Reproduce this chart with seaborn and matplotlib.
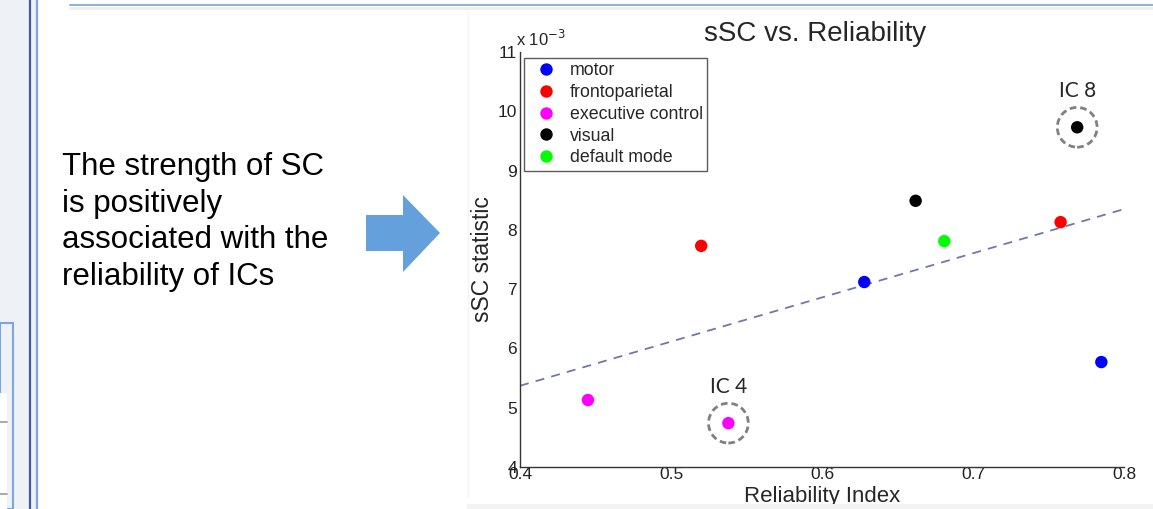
import numpy as np
import pandas as pd
import matplotlib
matplotlib.use("Agg")
import matplotlib.pyplot as plt
from matplotlib.patches import Polygon, Rectangle
from matplotlib.lines import Line2D
from matplotlib.ticker import FuncFormatter
import seaborn as sns

networks = ["motor", "frontoparietal", "executive control", "visual", "default mode"]
net_colors = ["#0000ff", "#ff0000", "#ff00ff", "#000000", "#00ff00"]
point_net = ["motor", "motor", "frontoparietal", "frontoparietal",
             "executive control", "executive control", "visual", "visual", "default mode"]
reliability = [0.628, 0.785, 0.520, 0.758, 0.445, 0.538, 0.662, 0.769, 0.681]
ssc = [7.12e-3, 5.77e-3, 7.73e-3, 8.13e-3, 5.13e-3, 4.74e-3, 8.49e-3, 9.73e-3, 7.81e-3]
ic_labels = {5: "IC 4", 7: "IC 8"}   # index of point -> label
fit_x = [0.4, 0.8]
fit_y = [5.37e-3, 8.35e-3]
x_ticks = [0.4, 0.5, 0.6, 0.7, 0.8]
y_ticks = [4e-3, 5e-3, 6e-3, 7e-3, 8e-3, 9e-3, 10e-3, 11e-3]

df = pd.DataFrame({"Reliability Index": reliability, "sSC statistic": ssc, "network": point_net})

sns.set_style("white")
plt.rcParams["font.family"] = ["Liberation Sans", "DejaVu Sans"]

W, H = 1153, 509
fig = plt.figure(figsize=(W / 100, H / 100), dpi=100)
fig.patch.set_facecolor("white")


def fx(px):
    return px / W


def fy(py):
    return 1 - py / H


# slide decoration on the left and top
fig.patches.append(Rectangle((0, 0), fx(29), 1, transform=fig.transFigure,
                             facecolor="#eef1f6", edgecolor="none", zorder=0))
fig.patches.append(Rectangle((fx(30), 0), fx(6), 1, transform=fig.transFigure,
                             facecolor="#eef1f6", edgecolor="none", zorder=0))
fig.lines.append(Line2D([fx(29.5), fx(29.5)], [0, 1], transform=fig.transFigure,
                        color="#44569e", lw=1.6))
fig.lines.append(Line2D([fx(36.5), fx(36.5)], [0, 1], transform=fig.transFigure,
                        color="#7aa7dd", lw=1.6))
fig.patches.append(Rectangle((0, 0), fx(13.5), fy(323), transform=fig.transFigure,
                             facecolor="#eef1f6", edgecolor="#7aa7dd", lw=1.5, zorder=1))
fig.patches.append(Rectangle((0, 0), fx(7), fy(393), transform=fig.transFigure,
                             facecolor="white", edgecolor="none", zorder=2))
for gy in [422, 494]:
    fig.lines.append(Line2D([0, fx(7)], [fy(gy), fy(gy)], transform=fig.transFigure,
                            color="#9a9a9a", lw=1.2, zorder=3))
fig.lines.append(Line2D([fx(70), 1], [fy(5), fy(5)], transform=fig.transFigure,
                        color="#8fb4e0", lw=1.5))
fig.lines.append(Line2D([fx(70), 1], [fy(8), fy(8)], transform=fig.transFigure,
                        color="#eceef2", lw=2))
fig.lines.append(Line2D([fx(468), fx(468)], [fy(498), fy(12)], transform=fig.transFigure,
                        color="#f4f4f4", lw=1))

# text and arrow
fig.text(fx(62), fy(222), "The strength of SC\nis positively\nassociated with the\nreliability of ICs",
         fontsize=22.5, va="center", ha="left", linespacing=1.3, color="black")
arrow_px = [(366, 215), (403, 215), (403, 195), (440, 233), (403, 272), (403, 251), (366, 251)]
fig.patches.append(Polygon([(fx(a), fy(b)) for a, b in arrow_px], closed=True,
                           transform=fig.transFigure, facecolor="#64a0dc", edgecolor="none"))

# chart
ax = fig.add_axes([fx(520), fy(467), fx(1124) - fx(520), fy(52) - fy(467)])
ax.set_facecolor("none")

sns.scatterplot(data=df, x="Reliability Index", y="sSC statistic", hue="network",
                hue_order=networks, palette=dict(zip(networks, net_colors)),
                s=80, edgecolor="none", ax=ax, zorder=3)
ax.plot(fit_x, fit_y, ls=(0, (5, 4)), color="#7178a8", lw=1.3, zorder=2)

for i, lab in ic_labels.items():
    ax.scatter([reliability[i]], [ssc[i]], s=820, facecolors="none", edgecolors="#808080",
               linewidths=2, linestyles=(0, (2.4, 1.4)), zorder=4)
    ax.annotate(lab, (reliability[i], ssc[i]), xytext=(0, 26), textcoords="offset points",
                ha="center", va="center", fontsize=15, family=["Lato", "DejaVu Sans"])

ax.set_xlim(0.4, 0.8)
ax.set_ylim(4e-3, 11e-3)
ax.set_xticks(x_ticks)
ax.set_yticks(y_ticks)
ax.xaxis.set_major_formatter(FuncFormatter(lambda v, _: f"{v:.1f}"))
ax.yaxis.set_major_formatter(FuncFormatter(lambda v, _: f"{v * 1e3:g}"))
ax.tick_params(direction="in", length=5, width=1, labelsize=12.5, colors="#222222", pad=2)
ax.tick_params(axis="x", pad=0)
for side in ["top", "right"]:
    ax.spines[side].set_visible(False)
for side in ["left", "bottom"]:
    ax.spines[side].set_color("#333333")
    ax.spines[side].set_linewidth(1)
ax.text(-0.007, 1.008, "x 10$^{-3}$", transform=ax.transAxes, fontsize=12, ha="left", va="bottom")

ax.set_xlabel("Reliability Index", fontsize=16, labelpad=3)
ax.set_ylabel("sSC statistic", fontsize=16.5, labelpad=3)
ax.set_title("sSC vs. Reliability", fontsize=20, pad=8, x=0.488)

leg = ax.legend(loc="upper left", bbox_to_anchor=(0.007, 0.986), borderaxespad=0,
                fontsize=12.8, frameon=True, fancybox=False, markerscale=1.0,
                handletextpad=0.3, labelspacing=0.27, borderpad=0.25, title=None)
leg.get_frame().set_edgecolor("#333333")
leg.get_frame().set_linewidth(1)

fig.patches.append(Rectangle((fx(467), 0), 1, fy(504), transform=fig.transFigure,
                             facecolor="#f3f3f3", edgecolor="none", zorder=10))

fig.savefig("out.png", dpi=100)
